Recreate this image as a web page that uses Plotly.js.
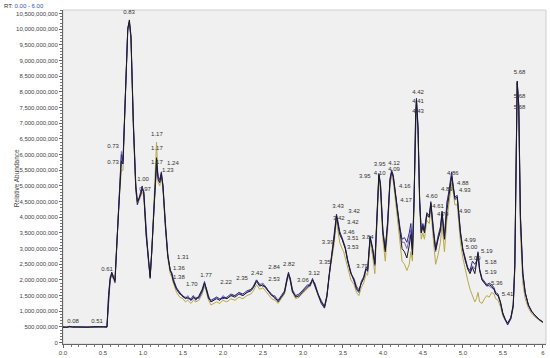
<!DOCTYPE html>
<html>
<head>
<meta charset="utf-8">
<script src="https://cdn.plot.ly/plotly-3.0.1.min.js"></script>
<style>html,body{margin:0;padding:0;background:#fff;}#chart{width:550px;height:358px;}</style>
</head>
<body>
<div id="chart"></div>
<script>
// Retention time (min)
const rt = [
0.00,0.05,0.08,0.12,0.20,0.30,0.40,0.51,0.55,0.57,
0.59,0.61,0.63,0.65,0.67,0.70,0.73,0.75,0.78,0.81,
0.83,0.85,0.88,0.91,0.93,0.95,0.97,0.99,1.01,1.04,
1.07,1.09,1.11,1.14,1.16,1.17,1.19,1.21,1.23,1.25,
1.28,1.31,1.34,1.36,1.38,1.42,1.46,1.50,1.53,1.56,
1.60,1.63,1.66,1.70,1.74,1.77,1.79,1.82,1.85,1.88,
1.92,1.96,2.00,2.05,2.10,2.15,2.20,2.25,2.30,2.35,
2.38,2.42,2.46,2.50,2.53,2.57,2.61,2.65,2.69,2.73,
2.77,2.80,2.82,2.84,2.87,2.91,2.95,2.99,3.03,3.06,
3.09,3.12,3.15,3.19,3.23,3.27,3.30,3.33,3.35,3.37,
3.39,3.42,3.44,3.46,3.49,3.51,3.53,3.56,3.60,3.64,
3.67,3.70,3.73,3.76,3.79,3.81,3.84,3.87,3.90,3.93,
3.95,3.97,4.00,4.03,4.06,4.09,4.11,4.13,4.16,4.18,
4.21,4.24,4.27,4.30,4.33,4.35,4.37,4.39,4.41,4.42,
4.44,4.46,4.48,4.50,4.52,4.55,4.58,4.60,4.63,4.66,
4.69,4.72,4.74,4.77,4.80,4.83,4.86,4.88,4.90,4.93,
4.95,4.97,5.00,5.03,5.06,5.09,5.12,5.15,5.17,5.19,
5.21,5.24,5.27,5.30,5.33,5.36,5.39,5.41,5.44,5.47,
5.50,5.53,5.56,5.60,5.63,5.65,5.67,5.68,5.70,5.72,
5.75,5.78,5.82,5.86,5.90,5.95,6.00];

// Intensities in billions (1e9)
const sampleBlack = [
0.50,0.49,0.52,0.49,0.50,0.49,0.51,0.52,0.50,1.50,
2.05,2.25,2.10,1.95,3.00,4.60,5.80,5.70,8.00,10.00,
10.30,9.80,7.00,5.00,4.50,4.60,4.70,4.90,4.80,3.50,
2.50,2.10,2.90,4.60,5.60,5.90,5.20,5.10,5.40,5.00,
3.80,2.80,2.30,2.20,1.95,1.70,1.55,1.50,1.40,1.45,
1.35,1.45,1.40,1.45,1.65,1.90,1.75,1.45,1.30,1.35,
1.40,1.35,1.45,1.40,1.50,1.45,1.55,1.50,1.60,1.65,
1.75,1.95,1.80,1.85,1.75,1.60,1.50,1.45,1.30,1.45,
1.60,2.00,2.20,2.05,1.65,1.45,1.50,1.60,1.70,1.80,
1.85,2.00,1.85,1.55,1.30,1.15,1.50,2.20,2.55,3.00,
3.30,4.05,3.80,3.45,3.30,3.15,3.00,2.60,2.20,2.00,
1.75,1.65,1.90,2.05,2.35,2.30,3.35,3.00,2.50,4.20,
5.35,5.00,3.50,2.90,3.80,5.20,5.45,5.30,4.70,4.20,
3.60,3.00,2.90,2.70,3.10,3.45,2.80,4.50,7.30,7.75,
6.80,4.50,3.50,3.70,3.50,4.10,4.00,4.45,3.60,2.95,
3.30,3.60,4.15,3.30,4.20,4.70,5.30,4.95,4.60,4.65,
4.00,3.50,2.95,2.60,2.35,2.20,2.40,2.20,2.50,2.85,
2.30,2.00,1.90,1.80,1.85,1.80,1.70,1.55,1.50,1.30,
0.95,0.75,0.62,0.80,1.20,2.50,6.50,8.35,7.50,4.00,
2.20,1.60,1.20,1.00,0.88,0.75,0.66];

const sampleNavy = [
0.48,0.50,0.50,0.51,0.49,0.50,0.50,0.50,0.49,1.45,
2.00,2.20,2.05,2.00,3.10,4.70,6.00,5.80,8.10,10.05,
10.25,9.70,6.90,4.90,4.40,4.65,4.80,5.00,4.75,3.40,
2.45,2.05,2.95,4.50,5.50,5.70,5.30,5.20,5.45,4.95,
3.70,2.75,2.35,2.15,2.00,1.75,1.60,1.45,1.45,1.40,
1.40,1.50,1.35,1.50,1.70,1.95,1.70,1.40,1.35,1.40,
1.45,1.40,1.40,1.45,1.55,1.50,1.60,1.55,1.65,1.70,
1.80,2.00,1.85,1.80,1.80,1.65,1.55,1.40,1.35,1.50,
1.65,2.05,2.25,2.00,1.60,1.50,1.55,1.65,1.75,1.85,
1.80,2.05,1.80,1.50,1.25,1.10,1.45,2.15,2.55,3.05,
3.35,4.10,3.85,3.55,3.35,3.20,3.05,2.65,2.25,1.95,
1.70,1.60,1.95,2.10,2.40,2.35,3.40,3.05,2.55,4.30,
5.40,5.10,3.60,3.00,3.90,5.25,5.50,5.35,4.75,4.30,
3.70,3.30,3.35,3.20,3.50,3.80,3.00,4.60,7.40,7.80,
6.90,4.60,3.55,3.80,3.60,4.15,4.05,4.50,3.70,3.00,
3.40,3.70,4.20,3.40,4.40,4.90,5.45,5.00,4.65,4.70,
4.05,3.55,3.00,2.65,2.40,2.30,2.60,2.50,2.60,2.90,
2.35,2.05,1.95,1.85,1.90,1.85,1.75,1.60,1.55,1.30,
0.90,0.70,0.56,0.75,1.15,2.40,6.40,8.30,7.60,4.10,
2.25,1.60,1.20,1.00,0.88,0.74,0.65];

const samplePurple = [
0.51,0.48,0.51,0.50,0.51,0.50,0.49,0.51,0.51,1.55,
2.10,2.20,2.15,1.90,2.95,4.55,6.10,5.75,7.90,9.95,
10.20,9.75,7.10,5.10,4.55,4.55,4.75,4.95,4.85,3.55,
2.55,2.15,2.85,4.40,5.50,5.60,5.25,5.15,5.35,5.05,
3.85,2.85,2.30,2.25,2.05,1.70,1.60,1.50,1.40,1.50,
1.35,1.40,1.45,1.40,1.60,1.85,1.75,1.50,1.30,1.35,
1.45,1.35,1.50,1.40,1.50,1.50,1.60,1.50,1.60,1.70,
1.75,2.00,1.85,1.90,1.80,1.65,1.50,1.50,1.35,1.45,
1.60,1.95,2.15,2.10,1.70,1.50,1.45,1.60,1.75,1.80,
1.90,2.00,1.90,1.55,1.35,1.15,1.50,2.25,2.60,3.00,
3.30,4.00,3.75,3.50,3.30,3.15,3.00,2.60,2.20,2.05,
1.80,1.70,1.90,2.05,2.35,2.25,3.30,3.00,2.45,4.15,
5.30,5.05,3.55,2.95,3.75,5.15,5.40,5.25,4.65,4.25,
3.65,3.20,3.20,3.00,3.30,3.60,2.90,4.50,7.30,7.70,
6.75,4.50,3.50,3.75,3.55,4.05,4.00,4.40,3.55,2.90,
3.30,3.55,4.10,3.30,4.50,4.80,5.35,4.90,4.55,4.60,
3.95,3.45,2.95,2.60,2.40,2.25,2.45,2.35,2.55,2.70,
2.30,2.00,1.90,1.85,1.80,1.75,1.70,1.55,1.50,1.25,
0.92,0.72,0.60,0.78,1.20,2.45,6.40,8.30,7.40,3.90,
2.15,1.55,1.18,0.98,0.86,0.74,0.65];

const sampleOlive = [
0.50,0.50,0.49,0.50,0.50,0.51,0.50,0.49,0.50,1.45,
2.00,2.15,2.05,1.90,2.90,4.50,5.50,5.50,7.90,10.00,
10.25,9.70,6.90,4.90,4.40,4.50,4.65,4.80,4.70,3.45,
2.45,2.05,2.90,4.70,5.90,6.40,5.10,5.00,5.30,4.90,
3.70,2.70,2.20,2.10,1.90,1.60,1.45,1.40,1.30,1.35,
1.25,1.35,1.30,1.35,1.55,1.80,1.65,1.35,1.20,1.25,
1.30,1.25,1.35,1.30,1.40,1.35,1.45,1.40,1.50,1.55,
1.65,1.85,1.70,1.75,1.65,1.50,1.40,1.35,1.25,1.40,
1.55,1.95,2.15,2.00,1.60,1.40,1.45,1.55,1.65,1.75,
1.80,1.95,1.80,1.50,1.25,1.10,1.45,2.15,2.50,2.90,
3.15,3.90,3.60,3.20,3.00,2.90,2.70,2.40,2.00,1.85,
1.60,1.50,1.75,1.90,2.20,2.15,3.20,2.80,2.20,4.00,
5.20,4.80,3.30,2.60,3.60,5.05,5.30,5.15,4.55,4.00,
3.30,2.60,2.50,2.30,2.50,2.90,2.60,4.30,7.20,7.65,
6.60,4.30,3.30,3.50,3.30,3.90,3.80,4.30,3.30,2.50,
2.80,3.20,3.80,2.90,3.90,4.50,5.10,4.80,4.40,4.40,
3.70,3.20,2.70,2.30,2.00,1.70,1.50,1.30,1.40,1.60,
1.30,1.25,1.40,1.50,1.45,1.60,1.55,1.40,1.35,1.15,
0.85,0.70,0.62,0.75,1.10,2.30,6.30,8.25,7.20,3.50,
1.90,1.40,1.10,0.92,0.82,0.72,0.63];

// Peak labels (text, RT where drawn, intensity in billions where drawn)
const labelText = ["0.08","0.51","0.61","0.73","0.73","0.83","1.00","0.97","1.17","1.17","1.17","1.24","1.23",
"1.31","1.36","1.38","1.70","1.77","2.22","2.35","2.42","2.53","2.84","2.82","3.06","3.12","3.35","3.39",
"3.43","3.42","3.42","3.42","3.46","3.51","3.53","3.79","3.84","3.95","3.95","4.10","4.12","4.09","4.16","4.17",
"4.42","4.41","4.43","4.60","4.61","4.74","4.86","4.88","4.89","4.93","4.90","4.99","5.00","5.09","5.19","5.18",
"5.19","5.36","5.41","5.68","5.68","5.68"];
const labelX = [0.125,0.425,0.55,0.625,0.625,0.825,1.0,1.025,1.175,1.175,1.175,1.375,1.31,
1.5,1.45,1.45,1.61,1.79,2.04,2.24,2.425,2.64,2.64,2.825,3.0,3.14,3.275,3.31,
3.44,3.64,3.45,3.625,3.575,3.625,3.625,3.74,3.81,3.96,3.775,3.96,4.14,4.14,4.275,4.29,
4.44,4.44,4.44,4.61,4.69,4.75,4.875,5.0,4.8,5.025,5.025,5.09,5.11,5.15,5.3,5.35,
5.35,5.425,5.56,5.71,5.71,5.71];
const labelY = [0.66,0.66,2.32,6.27,5.76,10.55,5.22,4.90,6.63,6.18,5.76,5.73,5.48,
2.73,2.38,2.09,1.87,2.13,1.93,2.06,2.22,2.00,2.41,2.48,1.97,2.22,2.57,3.18,
4.33,4.17,3.95,3.82,3.53,3.31,3.05,2.44,3.37,5.70,5.29,5.41,5.73,5.51,4.97,4.55,
7.97,7.68,7.39,4.65,4.36,4.10,5.41,5.09,4.90,4.84,4.20,3.27,3.02,2.67,2.92,2.57,
2.25,1.90,1.52,8.61,7.87,7.49];

const xTickVals = [0,0.5,1,1.5,2,2.5,3,3.5,4,4.5,5,5.5,6];
const xTickText = ["0.0","0.5","1.0","1.5","2.0","2.5","3.0","3.5","4.0","4.5","5.0","5.5","6"];

const B = 1e9;
const toAbs = a => a.map(v => v * B);
const FONT = "Liberation Sans, Arial, sans-serif";

const series = [
  {y: sampleOlive, color: "#b8a94a"},
  {y: samplePurple, color: "#7d62c9"},
  {y: sampleNavy, color: "#2a2d8f"},
  {y: sampleBlack, color: "#1b1b1b"}
];

const traces = series.map(s => ({
  type: "scatter", mode: "lines", x: rt, y: toAbs(s.y),
  line: {color: s.color, width: 1}, hoverinfo: "skip", showlegend: false
}));

traces.push({
  type: "scatter", mode: "text", x: labelX, y: toAbs(labelY), text: labelText,
  textposition: "middle center", cliponaxis: false,
  textfont: {family: FONT, size: 6, color: "#333"}, hoverinfo: "skip", showlegend: false
});

const layout = {
  width: 550, height: 358, autosize: false,
  margin: {l: 63, r: 4, t: 10, b: 14, pad: 0},
  paper_bgcolor: "#ffffff", plot_bgcolor: "#f0f0f0",
  showlegend: false,
  font: {family: FONT, size: 6, color: "#444"},
  xaxis: {
    range: [0, 6.04], tickmode: "array", tickvals: xTickVals, ticktext: xTickText,
    ticks: "outside", ticklen: 3, tickcolor: "#666", tickwidth: 1,
    minor: {dtick: 0.1, tick0: 0, ticks: "outside", ticklen: 2, tickcolor: "#777"},
    showline: true, linecolor: "#666", linewidth: 1, showgrid: false, zeroline: false,
    tickfont: {family: FONT, size: 6, color: "#444"}
  },
  yaxis: {
    range: [-0.045e9, 10.616e9], tick0: 0, dtick: 5e8, tickformat: ",d",
    ticks: "outside", ticklen: 3, tickcolor: "#666", tickwidth: 1,
    minor: {dtick: 1e8, ticks: "outside", ticklen: 2, tickcolor: "#777"},
    showline: true, linecolor: "#666", linewidth: 1, showgrid: false, zeroline: false,
    tickfont: {family: FONT, size: 6, color: "#444"}
  },
  shapes: [{type: "rect", xref: "paper", yref: "paper", x0: 0, x1: 1, y0: 0, y1: 1,
    line: {color: "#cfcfcf", width: 1}, layer: "below"}],
  annotations: [
    {xref: "paper", yref: "paper", x: -0.127, y: 1.012, xanchor: "left", yanchor: "middle",
     showarrow: false, text: '<span style="color:#333">RT:</span> <span style="color:#3550c8">0.00 - 6.00</span>',
     font: {family: FONT, size: 6}},
    {xref: "paper", yref: "paper", x: -0.097, y: 0.497, xanchor: "center", yanchor: "middle",
     showarrow: false, textangle: -90, text: "Relative Abundance",
     font: {family: FONT, size: 6.5, color: "#444"}}
  ]
};

Plotly.newPlot("chart", traces, layout, {staticPlot: true, displayModeBar: false});
</script>
</body>
</html>
